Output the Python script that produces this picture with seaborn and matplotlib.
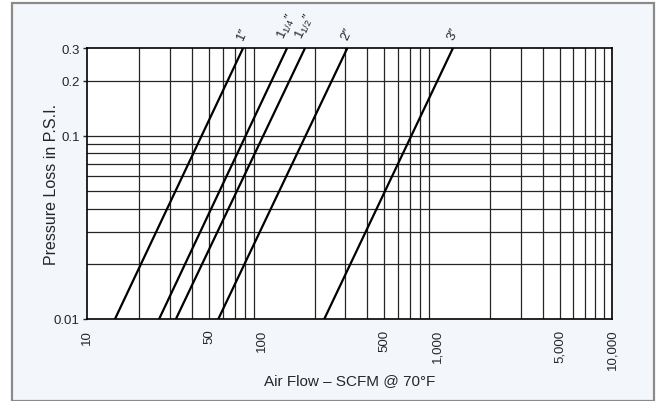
import numpy as np
import pandas as pd
import matplotlib
matplotlib.use("Agg")
import matplotlib.pyplot as plt
from matplotlib.patches import Rectangle
import seaborn as sns

# pipe sizes and air flow (SCFM) read at the bottom and top of the chart
sizes = ['1"', '1¼"', '1½"', '2"', '3"']
size_labels = ['1″', '1$_{1/4}$″', '1$_{1/2}$″', '2″', '3″']
flow_at_low = [14.5, 25.9, 32.3, 56.4, 227]
flow_at_high = [78, 139, 176, 307, 1230]
psi_low = 0.01
psi_high = 0.3

x_ticks = [10, 50, 100, 500, 1000, 5000, 10000]
x_tick_labels = ['10', '50', '100', '500', '1,000', '5,000', '10,000']
y_ticks = [0.01, 0.1, 0.2, 0.3]
y_tick_labels = ['0.01', '0.1', '0.2', '0.3']

rows = []
for s, lo, hi in zip(sizes, flow_at_low, flow_at_high):
    rows.append({'size': s, 'flow': lo, 'psi': psi_low})
    rows.append({'size': s, 'flow': hi, 'psi': psi_high})
df = pd.DataFrame(rows)

sns.set_style("white")
plt.rcParams['font.family'] = ['Liberation Sans Narrow', 'Liberation Sans', 'DejaVu Sans']
plt.rcParams['mathtext.fontset'] = 'custom'
plt.rcParams['mathtext.rm'] = 'Liberation Sans'
plt.rcParams['mathtext.it'] = 'Liberation Sans:italic'

fig = plt.figure(figsize=(6.56, 4.02), dpi=100)
fig.patch.set_facecolor('white')
fig.patches.append(Rectangle((12 / 656, 0), 642 / 656, 398 / 402, transform=fig.transFigure,
                             facecolor='#f3f7fc', edgecolor='#8a8a8a', linewidth=1.6, zorder=-10))

ax = fig.add_axes([86.7 / 656, 1 - 320 / 402, 525.6 / 656, 270.7 / 402])
ax.set_zorder(5)
ax.set_facecolor('white')

sns.lineplot(data=df, x='flow', y='psi', hue='size', palette=['black'] * len(sizes),
             legend=False, linewidth=1.6, ax=ax, zorder=3)

ax.set_xscale('log')
ax.set_yscale('log')
ax.set_xlim(10, 10000)
ax.set_ylim(psi_low, psi_high)

# full log grid
xgrid = [m * 10 ** e for e in range(1, 4) for m in range(2, 10)] + [1000 * 10]
ygrid = [0.02, 0.03, 0.04, 0.05, 0.06, 0.07, 0.08, 0.09, 0.1, 0.2]
for v in xgrid:
    ax.axvline(v, color='#262626', linewidth=0.9, zorder=1)
for v in ygrid:
    ax.axhline(v, color='#262626', linewidth=0.9, zorder=1)

ax.set_xticks(x_ticks)
ax.set_xticklabels(x_tick_labels, rotation=90, fontsize=9.5)
ax.set_yticks(y_ticks)
ax.set_yticklabels(y_tick_labels, fontsize=9.5)
ax.minorticks_off()
ax.tick_params(axis='x', length=0, pad=7)
ax.tick_params(axis='y', length=3, width=1, pad=2, left=True)

for sp in ax.spines.values():
    sp.set_color('black')
    sp.set_linewidth(1.2)

for lbl, hi in zip(size_labels, flow_at_high):
    ax.annotate(lbl, xy=(hi, psi_high), xytext=(0, 5), textcoords='offset points',
                ha='center', va='bottom', rotation=65, fontsize=9.5, color='#222222',
                annotation_clip=False)

ax.set_xlabel('Air Flow – SCFM @ 70°F', fontsize=11)
ax.set_ylabel('Pressure Loss in P.S.I.', fontsize=11.5)
ax.xaxis.set_label_coords(0.5, -(374 - 320) / 270.7)
ax.yaxis.set_label_coords(-(86.7 - 59) / 525.6, 0.5)

fig.savefig('out.png', dpi=100, facecolor=fig.get_facecolor())
